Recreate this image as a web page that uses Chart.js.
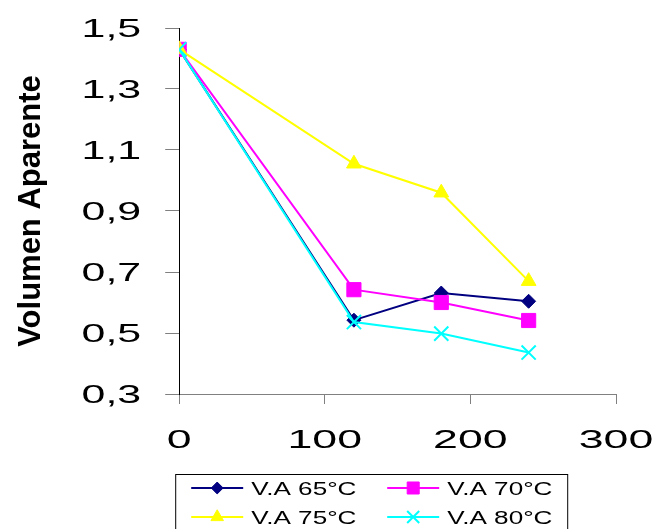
<!DOCTYPE html>
<html>
<head>
<meta charset="utf-8">
<script src="https://cdn.jsdelivr.net/npm/chart.js@4.4.1/dist/chart.umd.min.js"></script>
<style>
  html, body { margin: 0; padding: 0; background: #fff; }
  canvas { display: block; }
</style>
</head>
<body>
<canvas id="myChart" width="658" height="529"></canvas>
<script>
const tiempos = [0, 120, 180, 240];
const va65 = [1.43, 0.542, 0.631, 0.604];
const va70 = [1.43, 0.642, 0.600, 0.541];
const va75 = [1.43, 1.055, 0.960, 0.670];
const va80 = [1.43, 0.536, 0.498, 0.436];

const seriesLabels = ['V.A 65°C', 'V.A 70°C', 'V.A 75°C', 'V.A 80°C'];
const seriesColors = ['#000080', '#ff00ff', '#ffff00', '#00ffff'];
const seriesMarkers = ['rectRot', 'rect', 'triangle', 'crossRot'];
const markerSizes = [7, 10, 8.5, 10];

const xTicks = [0, 100, 200, 300];
const yTicks = [0.3, 0.5, 0.7, 0.9, 1.1, 1.3, 1.5];
const yTitle = 'Volumen Aparente';

const FONT = '"Liberation Sans", Arial, sans-serif';

function formatComa(v) {
  return Number.isInteger(v) && v >= 10 ? String(v) : (v >= 10 || v === 0 ? String(v) : v.toFixed(1).replace('.', ','));
}

function makeDataset(i, values) {
  return {
    label: seriesLabels[i],
    data: tiempos.map((t, j) => ({ x: t, y: values[j] })),
    borderColor: seriesColors[i],
    backgroundColor: seriesColors[i],
    borderWidth: 2,
    pointStyle: seriesMarkers[i],
    pointRadius: markerSizes[i],
    pointHoverRadius: markerSizes[i],
    pointBorderWidth: seriesMarkers[i] === 'crossRot' ? 2 : 1,
    pointBackgroundColor: seriesColors[i],
    pointBorderColor: seriesColors[i],
    tension: 0,
    order: 4 - i
  };
}

// etiquetas de ejes estiradas + leyenda con marco
const customLabels = {
  id: 'customLabels',
  afterDraw(chart) {
    const ctx = chart.ctx;
    const xs = chart.scales.x;
    const ys = chart.scales.y;
    ctx.save();
    ctx.fillStyle = '#000';
    ctx.font = '26px ' + FONT;
    ctx.textBaseline = 'alphabetic';

    ys.ticks.forEach((t, i) => {
      const py = ys.getPixelForTick(i);
      ctx.save();
      ctx.translate(ys.right - 38, py + 9.4);
      ctx.scale(1.65, 1);
      ctx.textAlign = 'right';
      ctx.fillText(formatComa(t.value), 0, 0);
      ctx.restore();
    });

    xs.ticks.forEach((t, i) => {
      const px = xs.getPixelForTick(i);
      ctx.save();
      ctx.translate(px, xs.top + 54);
      ctx.scale(1.72, 1);
      ctx.textAlign = 'center';
      ctx.fillText(formatComa(t.value), 0, 0);
      ctx.restore();
    });

    // leyenda
    const left = chart.chartArea.left - 4;
    const top = 474;
    ctx.strokeStyle = '#000';
    ctx.lineWidth = 1;
    ctx.strokeRect(left + 0.5, top + 0.5, 392, 80);

    const cols = [left + 16, left + 212];
    const rows = [top + 14, top + 43];
    chart.data.datasets.forEach((ds, i) => {
      const x0 = cols[i % 2];
      const y0 = rows[Math.floor(i / 2)];
      ctx.strokeStyle = ds.borderColor;
      ctx.fillStyle = ds.borderColor;
      ctx.lineWidth = 2;
      ctx.beginPath();
      ctx.moveTo(x0, y0);
      ctx.lineTo(x0 + 52, y0);
      ctx.stroke();
      ctx.lineWidth = ds.pointBorderWidth;
      Chart.helpers.drawPoint(ctx, {
        pointStyle: ds.pointStyle,
        rotation: 0,
        radius: ds.pointRadius * 0.85,
        borderWidth: ds.pointBorderWidth
      }, x0 + 26, y0);

      ctx.save();
      ctx.fillStyle = '#000';
      ctx.font = '18px ' + FONT;
      ctx.textAlign = 'left';
      ctx.translate(x0 + 60, y0 + 7);
      ctx.scale(1.45, 1);
      ctx.fillText(ds.label, 0, 0);
      ctx.restore();
    });
    ctx.restore();
  }
};

const ctx = document.getElementById('myChart').getContext('2d');
new Chart(ctx, {
  type: 'line',
  data: {
    datasets: [
      makeDataset(0, va65),
      makeDataset(1, va70),
      makeDataset(2, va75),
      makeDataset(3, va80)
    ]
  },
  options: {
    responsive: false,
    animation: false,
    layout: { padding: { left: 0, right: 42, top: 28, bottom: 125 } },
    plugins: {
      legend: { display: false },
      tooltip: { enabled: false }
    },
    scales: {
      x: {
        type: 'linear',
        min: 0,
        max: 300,
        afterBuildTicks: (axis) => { axis.ticks = xTicks.map(v => ({ value: v })); },
        ticks: { display: false },
        grid: { drawOnChartArea: false, drawTicks: true, tickLength: 10, color: '#808080', lineWidth: 1 },
        border: { display: true, color: '#808080', width: 1 }
      },
      y: {
        type: 'linear',
        min: 0.3,
        max: 1.5,
        afterBuildTicks: (axis) => { axis.ticks = yTicks.map(v => ({ value: v })); },
        ticks: { display: false },
        grid: { drawOnChartArea: false, drawTicks: true, tickLength: 14, color: '#808080', lineWidth: 1 },
        border: { display: true, color: '#000', width: 1 },
        title: {
          display: true,
          text: yTitle,
          color: '#000',
          font: { family: FONT, size: 31, weight: 'bold' },
          padding: { top: 13, bottom: 115 }
        }
      }
    }
  },
  plugins: [customLabels]
});
</script>
</body>
</html>
